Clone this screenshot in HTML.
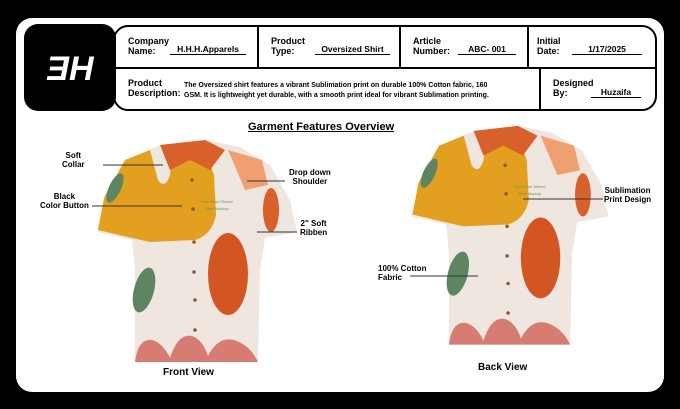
<!DOCTYPE html>
<html><head><meta charset="utf-8"><style>
body{margin:0;width:680px;height:409px;background:#000;position:relative;overflow:hidden;font-family:"Liberation Sans",sans-serif;}
.card{position:absolute;left:16px;top:18px;width:648px;height:374px;background:#fff;border-radius:16px;}
.t{position:absolute;font-size:9px;line-height:10px;color:#000;font-weight:bold;}
.u{position:absolute;font-size:8.5px;font-weight:bold;border-bottom:1.5px solid #000;text-align:center;line-height:10px;}
.lbl{position:absolute;font-size:8px;font-weight:bold;line-height:9px;text-align:center;}
</style></head><body>
<div class="card"></div>
<svg width="680" height="409" style="position:absolute;left:0;top:0">
<rect x="114" y="26" width="542" height="84" rx="14" fill="#fff" stroke="#000" stroke-width="2"/>
<line x1="114" y1="68" x2="656" y2="68" stroke="#000" stroke-width="2"/>
<line x1="258" y1="26" x2="258" y2="68" stroke="#000" stroke-width="2"/>
<line x1="400" y1="26" x2="400" y2="68" stroke="#000" stroke-width="2"/>
<line x1="528" y1="26" x2="528" y2="68" stroke="#000" stroke-width="2"/>
<line x1="540" y1="68" x2="540" y2="110" stroke="#000" stroke-width="2"/>
<rect x="24" y="24" width="92" height="87" rx="14" fill="#000"/>
<text x="70" y="80" text-anchor="middle" font-family="Liberation Sans" font-weight="bold" font-style="italic" font-size="34" fill="#fff">ƎH</text>
<defs>
<g id="shirt">
<path d="M160,145 L205,140 L240,147 L270,165 L290,200 L297,232 L265,238 L260,270 L258,362 L135,362 L135,270 L132,240 L97,232 L105,195 L125,160 Z" fill="#efe6df"/>
<path d="M125,160 L150,150 L158,180 Q165,190 170,175 L172,158 L190,155 L205,150 L214,175 L216,215 Q212,235 195,240 L150,242 L132,238 L98,230 L104,198 Z" fill="#e3a020"/>
<path d="M160,145 L205,140 L225,150 L210,170 L190,160 L170,170 Z" fill="#d8602a"/>
<path d="M228,150 L262,160 L268,185 L245,190 Z" fill="#f0a070"/>
<ellipse cx="228" cy="274" rx="20" ry="41" fill="#d35522"/>
<ellipse cx="144" cy="290" rx="10" ry="23" fill="#5e8462" transform="rotate(15 144 290)"/>
<ellipse cx="115" cy="188" rx="6" ry="16" fill="#5e8462" transform="rotate(25 115 188)"/>
<ellipse cx="271" cy="210" rx="8" ry="22" fill="#d8602a"/>
<path d="M135,362 Q138,338 152,340 Q163,343 170,358 Q178,333 192,336 Q203,340 208,356 Q218,336 234,340 Q250,345 258,362 Z" fill="#d67c72"/>
<g fill="#8a5a30"><circle cx="192" cy="180" r="1.8"/><circle cx="193" cy="209" r="1.8"/><circle cx="194" cy="242" r="1.8"/><circle cx="194" cy="272" r="1.8"/><circle cx="195" cy="300" r="1.8"/><circle cx="195" cy="330" r="1.8"/></g>
<text x="217" y="203" font-size="4" fill="#5a9a50" text-anchor="middle">Free Short Sleeve</text>
<text x="217" y="210" font-size="4" fill="#5a9a50" text-anchor="middle">Shirt Mockup</text>
</g>
</defs>
<use href="#shirt"/>
<use href="#shirt" transform="translate(316,-12) scale(0.985)"/>
<g stroke="#333" stroke-width="1">
<line x1="103" y1="165" x2="163" y2="165"/>
<line x1="92" y1="206" x2="182" y2="206"/>
<line x1="247" y1="181" x2="285" y2="181"/>
<line x1="257" y1="232" x2="297" y2="232"/>
<line x1="523" y1="199" x2="603" y2="199"/>
<line x1="410" y1="276" x2="478" y2="276"/>
</g>
</svg>
<div class="t" style="left:128px;top:36px">Company<br>Name:</div>
<div class="u" style="left:170px;top:44px;width:76px">H.H.H.Apparels</div>
<div class="t" style="left:271px;top:36px">Product<br>Type:</div>
<div class="u" style="left:315px;top:44px;width:75px">Oversized Shirt</div>
<div class="t" style="left:413px;top:36px">Article<br>Number:</div>
<div class="u" style="left:458px;top:44px;width:58px">ABC- 001</div>
<div class="t" style="left:537px;top:36px">Initial<br>Date:</div>
<div class="u" style="left:572px;top:44px;width:70px">1/17/2025</div>
<div class="t" style="left:128px;top:78px">Product<br>Description:</div>
<div style="position:absolute;left:184px;top:81px;font-size:7px;line-height:10px;font-weight:bold;width:350px;white-space:nowrap">The Oversized shirt features a vibrant Sublimation print on durable 100% Cotton fabric, 160<br>GSM. It is lightweight yet durable, with a smooth print ideal for vibrant Sublimation printing.</div>
<div class="t" style="left:553px;top:78px">Designed<br>By:</div>
<div class="u" style="left:591px;top:87px;width:50px">Huzaifa</div>
<div style="position:absolute;left:248px;top:121px;font-size:11px;font-weight:bold;text-decoration:underline">Garment Features Overview</div>
<div class="lbl" style="left:62px;top:151px">Soft<br>Collar</div>
<div class="lbl" style="left:40px;top:192px">Black<br>Color Button</div>
<div class="lbl" style="left:289px;top:168px">Drop down<br>Shoulder</div>
<div class="lbl" style="left:300px;top:219px">2" Soft<br>Ribben</div>
<div class="lbl" style="left:604px;top:186px">Sublimation<br>Print Design</div>
<div class="lbl" style="left:378px;top:264px;text-align:left">100% Cotton<br>Fabric</div>
<div style="position:absolute;left:163px;top:367px;font-size:10px;font-weight:bold">Front View</div>
<div style="position:absolute;left:478px;top:362px;font-size:10px;font-weight:bold">Back View</div>
</body></html>
